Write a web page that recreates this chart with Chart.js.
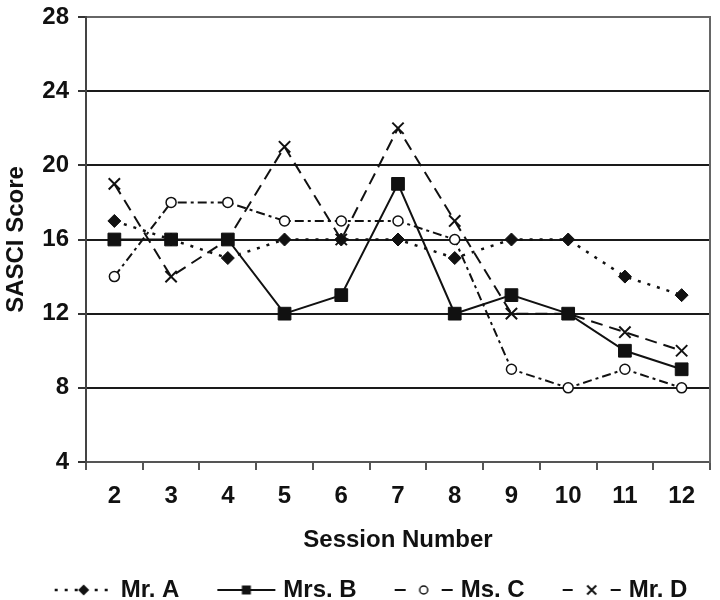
<!DOCTYPE html>
<html><head><meta charset="utf-8">
<script src="https://cdn.jsdelivr.net/npm/chart.js@4/dist/chart.umd.min.js"></script>
<style>html,body{margin:0;padding:0;background:#fff}#wrap{width:720px;height:600px}</style>
</head><body><div id="wrap"><canvas id="c" width="720" height="600"></canvas></div>
<script>
const sessions = ['2','3','4','5','6','7','8','9','10','11','12'];
const mrA  = [17,16,15,16,16,16,15,16,16,14,13];
const mrsB = [16,16,16,12,13,19,12,13,12,10,9];
const msC  = [14,18,18,17,17,17,16,9,8,9,8];
const mrD  = [19,14,16,21,16,22,17,12,12,11,10];
const seriesNames = ['Mr. A','Mrs. B','Ms. C','Mr. D'];
const yMin = 4, yMax = 28, yStep = 4;

const INK = '#111';
const FONT = "'Liberation Sans', Arial, Helvetica, sans-serif";
Chart.defaults.font.family = FONT;
Chart.defaults.color = INK;

const lineDash = [[3,7], [], [9,4,3,4], [12,7]];
const legendDash = [[3,7], [], [11,36], [10,38]];

const LEG_BOX = 76;          // legend box width
const LEG_IMG = LEG_BOX + 10; // image overhangs the box by 5px on each side
function makeLegendImg(i) {
  const c = document.createElement('canvas');
  c.width = LEG_IMG; c.height = 20;
  const g = c.getContext('2d');
  g.strokeStyle = INK; g.fillStyle = INK;
  const x1 = LEG_IMG - 1, x0 = x1 - 58, cy = 10, cx = (x0 + x1) / 2;
  g.lineWidth = i === 0 ? 2.5 : 2;
  g.setLineDash(legendDash[i]);
  g.beginPath(); g.moveTo(x0, cy); g.lineTo(x1, cy); g.stroke();
  g.setLineDash([]);
  g.beginPath();
  if (i === 0) {
    g.moveTo(cx, cy - 5.5); g.lineTo(cx + 5.5, cy); g.lineTo(cx, cy + 5.5); g.lineTo(cx - 5.5, cy); g.closePath(); g.fill();
  } else if (i === 1) {
    g.rect(cx - 4.5, cy - 4.5, 9, 9); g.fill();
  } else if (i === 2) {
    g.arc(cx, cy, 4, 0, Math.PI * 2); g.fillStyle = '#fff'; g.fill(); g.lineWidth = 1.5; g.stroke();
  } else {
    g.lineWidth = 2;
    g.moveTo(cx - 4.5, cy - 4.5); g.lineTo(cx + 4.5, cy + 4.5);
    g.moveTo(cx + 4.5, cy - 4.5); g.lineTo(cx - 4.5, cy + 4.5); g.stroke();
  }
  return c;
}
const legendImgs = [0,1,2,3].map(makeLegendImg);

const datasets = [
  { label: seriesNames[0], data: mrA, borderColor: INK, borderWidth: 2.5, borderDash: lineDash[0],
    pointStyle: 'rectRot', pointRadius: 6.5, pointBackgroundColor: INK, pointBorderColor: INK, pointBorderWidth: 1, order: 3 },
  { label: seriesNames[1], data: mrsB, borderColor: INK, borderWidth: 2, borderDash: lineDash[1],
    pointStyle: 'rect', pointRadius: 9, pointBackgroundColor: INK, pointBorderColor: INK, pointBorderWidth: 1, order: 0 },
  { label: seriesNames[2], data: msC, borderColor: INK, borderWidth: 2, borderDash: lineDash[2],
    pointStyle: 'circle', pointRadius: 5, pointBackgroundColor: '#fff', pointBorderColor: INK, pointBorderWidth: 1.5, order: 1 },
  { label: seriesNames[3], data: mrD, borderColor: INK, borderWidth: 2, borderDash: lineDash[3],
    pointStyle: 'crossRot', pointRadius: 8, pointBackgroundColor: INK, pointBorderColor: INK, pointBorderWidth: 2, order: 2 }
];
datasets.forEach(d => { d.tension = 0; d.fill = false; d.backgroundColor = INK; });

new Chart(document.getElementById('c'), {
  type: 'line',
  data: { labels: sessions, datasets },
  options: {
    responsive: false,
    animation: false,
    events: [],
    layout: { padding: { top: 17, right: 0, bottom: -12, left: 0 } },
    scales: {
      x: {
        type: 'category',
        offset: true,
        grid: { offset: true, drawOnChartArea: false, drawTicks: true, tickLength: 8, color: '#555', lineWidth: 2 },
        border: { display: true, color: '#555', width: 2 },
        ticks: { font: { size: 24, weight: 'bold' }, color: INK, padding: 12, maxRotation: 0 },
        title: { display: true, text: 'Session Number', font: { size: 24, weight: 'bold' }, color: INK, padding: { top: 0, bottom: 7.6 } },
        afterFit: s => { s.height = 100; s.paddingLeft = 0; s.paddingRight = 0; }
      },
      y: {
        min: yMin, max: yMax,
        ticks: { stepSize: yStep, font: { size: 24, weight: 'bold' }, color: INK, padding: 9 },
        grid: {
          color: c => (c.tick && c.tick.value === yMax) ? '#666' : (c.tick && c.tick.value === yMin) ? 'rgba(0,0,0,0)' : '#1a1a1a',
          tickColor: '#333', lineWidth: 2, tickLength: 8
        },
        border: { display: true, color: '#444', width: 2 },
        title: { display: true, text: 'SASCI Score', font: { size: 24, weight: 'bold' }, color: INK, padding: { top: 2, bottom: 0 } },
        afterFit: s => { s.width = 86; s.paddingTop = 0; s.paddingBottom = 0; }
      },
      y2: {
        position: 'right',
        min: yMin, max: yMax,
        ticks: { display: false },
        grid: { drawOnChartArea: false, drawTicks: false },
        border: { display: true, color: '#666', width: 2 },
        afterFit: s => { s.width = 6; s.paddingTop = 0; s.paddingBottom = 0; }
      }
    },
    plugins: {
      tooltip: { enabled: false },
      legend: {
        position: 'bottom',
        labels: {
          usePointStyle: true,
          pointStyleWidth: LEG_BOX,
          padding: 16,
          color: INK,
          font: { size: 24, weight: 'bold' },
          generateLabels: chart => chart.data.datasets.map((d, i) => ({
            text: d.label, pointStyle: legendImgs[i], fillStyle: INK, strokeStyle: INK,
            lineWidth: 0, hidden: false, datasetIndex: i, fontColor: INK
          }))
        }
      }
    }
  }
});
</script></body></html>
